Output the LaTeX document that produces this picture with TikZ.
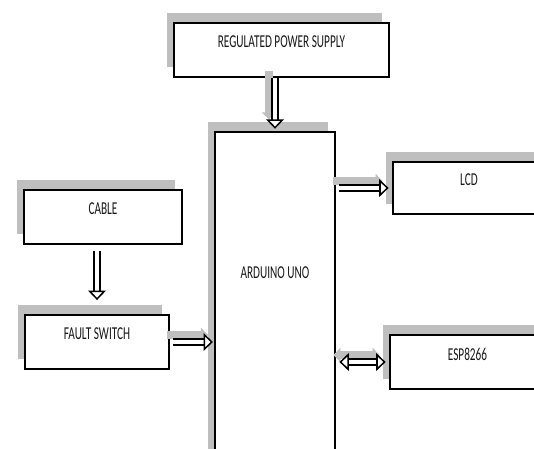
\documentclass[tikz,border=0pt]{standalone}
\usepackage{fontspec}
\newfontfamily\boxfont[FakeStretch=0.62]{Carlito}
\usetikzlibrary{arrows.meta,shadows}

\begin{document}
\begin{tikzpicture}[
    x=0.03cm,
    y=-0.03cm,
    block/.style={
      draw,
      line width=1.5pt,
      fill=white,
      text=black!90,
      inner sep=0pt,
      font=\boxfont\fontsize{15.5}{18}\selectfont,
      text depth=0.48cm,
      general shadow={fill=black!25, shadow xshift=-0.21cm, shadow yshift=0.3cm}
    },
    flow/.style={
      double,
      double distance=3.4pt,
      line width=1.3pt,
      >={Triangle[length=8pt, width=15pt, fill=white, line width=1.3pt]}
    },
    flowshadow/.style={
      draw=black!25,
      line width=6pt,
      >={Triangle[length=6pt, width=12pt]},
      transform canvas={shift={(-6,-7)}}
    }
  ]

    \useasboundingbox (0,0) rectangle (534,448);
    \clip (0,0) rectangle (534,448);

    % --- Blocks
    \node[block, minimum width=6.45cm, minimum height=1.62cm] (rps) at (281.5,50) {REGULATED POWER SUPPLY};
    \node[block, minimum width=3.6cm, minimum height=9.84cm, text depth=1.38cm] (arduino) at (275,296) {ARDUINO UNO};
    \node[block, minimum width=4.74cm, minimum height=1.62cm] (cable) at (103,217) {CABLE};
    \node[block, minimum width=4.32cm, minimum height=1.62cm] (fault) at (97,342) {FAULT SWITCH};
    \node[block, minimum width=4.56cm, minimum height=1.56cm] (lcd) at (469,188) {LCD};
    \node[block, minimum width=4.65cm, minimum height=1.62cm] (esp) at (467.5,362) {ESP8266};

    % --- Arrow shadows
    \draw[flowshadow, ->, shorten >=4pt] (arduino.north |- rps.south) -- (arduino.north);
    \draw[flowshadow, ->, shorten <=3pt] (fault.east) -- (fault.east -| arduino.west);
    \draw[flowshadow, ->, shorten <=3pt, shorten >=3pt] (lcd.west -| arduino.east) -- (lcd.west);
    \draw[flowshadow, <->, shorten <=3pt, shorten >=3pt] (esp.west -| arduino.east) -- (esp.west);

    % --- Arrows
    \draw[flow, ->, shorten >=2pt] (arduino.north |- rps.south) -- (arduino.north);
    \draw[flow, ->, shorten <=5pt, shorten >=12pt] (fault.north |- cable.south) -- (fault.north);
    \draw[flow, ->, shorten <=3pt, shorten >=1pt] (fault.east) -- (fault.east -| arduino.west);
    \draw[flow, ->, shorten <=3pt, shorten >=3pt] (lcd.west -| arduino.east) -- (lcd.west);
    \draw[flow, <->, shorten <=3pt, shorten >=3pt] (esp.west -| arduino.east) -- (esp.west);

  \end{tikzpicture}
\end{document}
